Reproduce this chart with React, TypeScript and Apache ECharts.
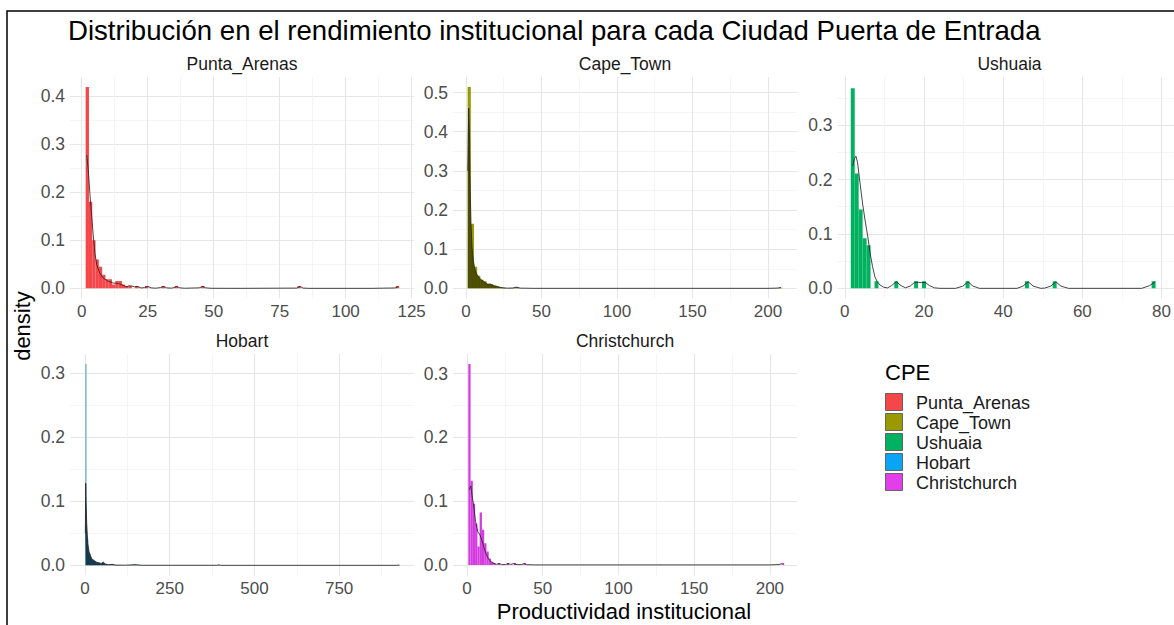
import React, { useEffect, useRef } from "react";
import * as echarts from "echarts";

// Cities (facet order) and their fill colours
const cities = ["Punta_Arenas", "Cape_Town", "Ushuaia", "Hobart", "Christchurch"];
const cityColors = ["#F5464A", "#9A9A00", "#00B25F", "#0AA4F5", "#E23FEB"];

// Histogram bins per city: [binStart, density]; bin width in data units
const puntaBinWidth = 1.25;
const puntaBins = [
  [1.5, 0.418], [2.75, 0.18], [4.0, 0.1], [5.25, 0.06], [6.5, 0.045], [7.75, 0.028],
  [9.0, 0.019], [10.25, 0.019], [11.5, 0.008], [12.75, 0.015], [14.0, 0.015], [15.25, 0.008],
  [16.5, 0.005], [17.75, 0.005], [20.25, 0.005], [24.0, 0.005], [30.25, 0.005], [35.25, 0.005],
  [45.25, 0.005], [81.75, 0.005], [119.0, 0.005],
];
const capeBinWidth = 2.1;
const capeBins = [
  [1.1, 0.514], [3.2, 0.165], [5.3, 0.055], [7.4, 0.032], [9.5, 0.022], [11.6, 0.018],
  [13.7, 0.012], [15.8, 0.011], [17.9, 0.007], [20.0, 0.005], [22.1, 0.003], [24.2, 0.0015],
  [32.6, 0.002], [207.5, 0.0015],
];
const ushuaiaBinWidth = 1;
const ushuaiaBins = [
  [1.5, 0.368], [2.5, 0.211], [3.5, 0.145], [4.5, 0.092], [5.5, 0.079], [7.5, 0.013],
  [12.5, 0.013], [17.5, 0.013], [19.5, 0.013], [30.5, 0.013], [45.5, 0.013], [52.5, 0.013],
  [77.5, 0.013],
];
const hobartBinWidth = 5;
const hobartBins = [
  [0, 0.314], [5, 0.042], [10, 0.018], [15, 0.011], [20, 0.007], [25, 0.005], [30, 0.004],
  [35, 0.003], [40, 0.003], [45, 0.002], [50, 0.004], [55, 0.002], [60, 0.0015], [70, 0.001],
  [80, 0.001], [145, 0.0006], [390, 0.0006], [925, 0.0006],
];
const christchurchBinWidth = 1.5;
const christchurchBins = [
  [0.9, 0.315], [2.4, 0.132], [3.9, 0.096], [5.4, 0.065], [6.9, 0.029], [8.4, 0.082],
  [9.9, 0.055], [11.4, 0.034], [12.9, 0.021], [14.4, 0.01], [15.9, 0.005], [17.4, 0.003],
  [20.4, 0.003], [26.4, 0.003], [30.9, 0.003], [37.4, 0.003], [207.9, 0.003],
];

// Kernel density curves: [x, density]
const puntaDensity = [
  [1.9, 0.277], [2.5, 0.246], [3.1, 0.197], [3.8, 0.149], [4.4, 0.109], [5.0, 0.073], [5.7, 0.049],
  [6.9, 0.031], [8.2, 0.021], [10.1, 0.0146], [12, 0.011], [13.9, 0.01], [15.8, 0.006], [16.8, 0.003],
  [17.8, 0.005], [19.0, 0.005], [20.0, 0.003], [21.0, 0.004], [22.5, 0.0008], [23.8, 0.0015],
  [25, 0.004], [26.3, 0.001], [28, 0.0003], [29.8, 0.0015], [31, 0.004], [32.2, 0.001], [34, 0.0004],
  [35, 0.0015], [36, 0.004], [37.2, 0.001], [39, 0.0002], [44.5, 0.001], [45.8, 0.004], [47, 0.001],
  [49, 0.0001], [60, 0], [81.5, 0.0005], [82.7, 0.004], [83.9, 0.0005], [86, 0], [110, 0],
  [118.8, 0.0008], [120, 0.004],
];
const capeDensity = [
  [1.2, 0.3], [1.8, 0.46], [2.3, 0.4], [2.8, 0.25], [3.3, 0.165], [4.0, 0.105], [4.8, 0.072],
  [5.8, 0.05], [7, 0.037], [8.5, 0.028], [10, 0.022], [11.5, 0.018], [13, 0.014], [14.5, 0.01],
  [16, 0.011], [17.5, 0.008], [19, 0.006], [20.5, 0.005], [22, 0.003], [24, 0.0015], [27, 0.0005],
  [31, 0.0008], [33.5, 0.003], [36, 0.0005], [45, 0], [200, 0], [206, 0.0005], [208.5, 0.002],
];
const ushuaiaDensity = [
  [2, 0.225], [2.4, 0.238], [2.8, 0.243], [3.2, 0.232], [3.9, 0.19], [4.5, 0.155], [5.1, 0.126],
  [5.8, 0.095], [6.4, 0.064], [7.0, 0.04], [7.6, 0.021], [8.2, 0.012], [8.9, 0.006], [9.8, 0.002],
  [10.8, 0.0008], [11.8, 0.005], [13, 0.012], [14.2, 0.005], [15.3, 0.001], [16.5, 0.004],
  [17.6, 0.011], [18.6, 0.011], [19.4, 0.0105], [20.3, 0.011], [21.4, 0.005], [22.6, 0.001],
  [24, 0], [28, 0], [29.8, 0.004], [31.1, 0.012], [32.4, 0.004], [34, 0], [43.5, 0], [45, 0.004],
  [46.3, 0.012], [47.6, 0.004], [49.5, 0], [50.5, 0.0005], [52, 0.004], [53.3, 0.012], [54.6, 0.004],
  [56.5, 0], [75, 0], [77, 0.005], [78.4, 0.012],
];
const hobartDensity = [
  [1, 0.05], [2, 0.128], [3, 0.1], [5, 0.065], [8, 0.034], [12, 0.021], [20, 0.01], [34, 0.005],
  [48, 0.003], [54, 0.005], [60, 0.002], [70, 0.001], [80, 0.0015], [90, 0.0004], [120, 0.0002],
  [148, 0.001], [170, 0.0001], [390, 0.0001], [394, 0.0008], [400, 0], [920, 0], [928, 0.0005],
];
const christchurchDensity = [
  [1.5, 0.118], [2.6, 0.124], [3.3, 0.11], [4.2, 0.097], [5.7, 0.068], [7.1, 0.052], [8.6, 0.047],
  [9.7, 0.04], [10.8, 0.031], [12.5, 0.018], [14.3, 0.009], [16.3, 0.004], [18.5, 0.0015],
  [19.6, 0.001], [21.3, 0.002], [23, 0.0005], [25.5, 0.0005], [27.3, 0.002], [29, 0.0008],
  [31, 0.002], [33, 0.0004], [36, 0.0005], [37.8, 0.002], [39.5, 0.0003], [45, 0], [200, 0],
  [206, 0.0005], [208, 0.002],
];

// Axis breaks per panel
const xBreaksPunta = [0, 25, 50, 75, 100, 125];
const xMinorPunta = [12.5, 37.5, 62.5, 87.5, 112.5];
const xBreaks210 = [0, 50, 100, 150, 200];
const xMinor210 = [25, 75, 125, 175];
const xBreaksUshuaia = [0, 20, 40, 60, 80];
const xMinorUshuaia = [10, 30, 50, 70];
const xBreaksHobart = [0, 250, 500, 750];
const xMinorHobart = [125, 375, 625, 875];
const yBreaks04 = [0, 0.1, 0.2, 0.3, 0.4];
const yBreaks05 = [0, 0.1, 0.2, 0.3, 0.4, 0.5];
const yBreaks03 = [0, 0.1, 0.2, 0.3];
const yMinor = [0.05, 0.15, 0.25, 0.35, 0.45];

const FONT = "'Liberation Sans', Arial, Helvetica, sans-serif";

const panels = [
  { bins: puntaBins, bw: puntaBinWidth, dens: puntaDensity, left: 70, top: 77, xr: [-4.43, 125.9], yr: [-0.0209, 0.439], xb: xBreaksPunta, xm: xMinorPunta, yb: yBreaks04, area: null },
  { bins: capeBins, bw: capeBinWidth, dens: capeDensity, left: 453, top: 77, xr: [-8.6, 219.2], yr: [-0.0257, 0.5397], xb: xBreaks210, xm: xMinor210, yb: yBreaks05, area: "rgba(45,45,0,0.7)" },
  { bins: ushuaiaBins, bw: ushuaiaBinWidth, dens: ushuaiaDensity, left: 837.5, top: 77, xr: [-1.85, 83.1], yr: [-0.0185, 0.3885], xb: xBreaksUshuaia, xm: xMinorUshuaia, yb: yBreaks03, area: null },
  { bins: hobartBins, bw: hobartBinWidth, dens: hobartDensity, left: 70, top: 354, xr: [-44.3, 971], yr: [-0.0157, 0.3297], xb: xBreaksHobart, xm: xMinorHobart, yb: yBreaks03, area: "rgba(10,45,65,0.92)" },
  { bins: christchurchBins, bw: christchurchBinWidth, dens: christchurchDensity, left: 453, top: 354, xr: [-9.2, 217.9], yr: [-0.0165, 0.3308], xb: xBreaks210, xm: xMinor210, yb: yBreaks03, area: null },
];
const barFill = ["#F5464A", "#9A9A00", "#00B25F", "#8DBAD3", "#D43CE0"];

export default function App() {
  const ref = useRef<HTMLDivElement>(null);
  useEffect(() => {
    const chart = echarts.init(ref.current!, undefined, { renderer: "svg" });
    const grid: any[] = [];
    const xAxis: any[] = [];
    const yAxis: any[] = [];
    const series: any[] = [];
    panels.forEach((p, i) => {
      grid.push({ left: p.left, top: p.top, width: 344, height: 221.4 });
      xAxis.push({
        gridIndex: i, type: "value", min: p.xr[0], max: p.xr[1],
        axisLine: { show: false }, axisTick: { show: false, customValues: p.xb },
        axisLabel: { customValues: p.xb, color: "#4D4D4D", fontSize: 17, margin: 5, lineHeight: 17, fontFamily: FONT },
        splitLine: { show: true, lineStyle: { color: "#E6E6E6", width: 1 } },
      });
      xAxis.push({
        gridIndex: i, type: "value", position: "top", min: p.xr[0], max: p.xr[1],
        axisLine: { show: false }, axisTick: { show: false, customValues: p.xm }, axisLabel: { show: false },
        splitLine: { show: true, lineStyle: { color: "#F2F2F2", width: 0.8 } },
      });
      yAxis.push({
        gridIndex: i, type: "value", min: p.yr[0], max: p.yr[1],
        axisLine: { show: false }, axisTick: { show: false, customValues: p.yb },
        axisLabel: { customValues: p.yb, color: "#4D4D4D", fontSize: 17.5, margin: 5, fontFamily: FONT, formatter: (v: number) => v.toFixed(1) },
        splitLine: { show: true, lineStyle: { color: "#E6E6E6", width: 1 } },
      });
      yAxis.push({
        gridIndex: i, type: "value", position: "right", min: p.yr[0], max: p.yr[1],
        axisLine: { show: false }, axisTick: { show: false, customValues: yMinor }, axisLabel: { show: false },
        splitLine: { show: true, lineStyle: { color: "#F2F2F2", width: 0.8 } },
      });
      const bw = p.bw;
      const fill = barFill[i];
      series.push({
        type: "custom", name: cities[i], xAxisIndex: 2 * i, yAxisIndex: 2 * i, data: p.bins,
        clip: true,
        renderItem: (params: any, api: any) => {
          const x0 = api.value(0);
          const y = api.value(1);
          const a = api.coord([x0, y]);
          const b = api.coord([x0 + bw, 0]);
          return {
            type: "rect",
            shape: { x: a[0], y: a[1], width: Math.max(b[0] - a[0], 1), height: b[1] - a[1] },
            style: { fill },
          };
        },
      });
      series.push({
        type: "line", xAxisIndex: 2 * i, yAxisIndex: 2 * i, data: p.dens, showSymbol: false,
        smooth: false, silent: true, clip: true,
        lineStyle: { color: "#262626", width: 1, opacity: 0.85 },
        areaStyle: p.area ? { color: p.area, opacity: 1, origin: 0 } : undefined,
      });
    });

    const graphic: any[] = [
      { type: "rect", shape: { x: 7, y: 11, width: 1300, height: 800 }, style: { fill: "none", stroke: "#000", lineWidth: 1.5 }, silent: true },
      { type: "text", x: 68, y: 30, style: { text: "Distribución en el rendimiento institucional para cada Ciudad Puerta de Entrada", font: `27.6px ${FONT}`, fill: "#000", verticalAlign: "middle" } },
      { type: "text", x: 22, y: 326, rotation: Math.PI / 2, style: { text: "density", font: `22px ${FONT}`, fill: "#000", align: "center", verticalAlign: "middle" } },
      { type: "text", x: 624, y: 611, style: { text: "Productividad institucional", font: `22px ${FONT}`, lineHeight: 22, fill: "#000", align: "center", verticalAlign: "middle" } },
      { type: "text", x: 885, y: 372, style: { text: "CPE", font: `22px ${FONT}`, fill: "#000", verticalAlign: "middle" } },
    ];
    panels.forEach((p, i) => {
      graphic.push({ type: "text", x: p.left + 172, y: p.top - 13, style: { text: cities[i], font: `17.5px ${FONT}`, fill: "#1A1A1A", align: "center", verticalAlign: "middle" } });
    });
    cities.forEach((c, i) => {
      graphic.push({ type: "rect", shape: { x: 885.5, y: 393.5 + i * 20, width: 17, height: 17 }, style: { fill: cityColors[i], stroke: "#4D4D4D", lineWidth: 0.8 } });
      graphic.push({ type: "text", x: 916, y: 402.5 + i * 20, style: { text: c, font: `18px ${FONT}`, fill: "#1A1A1A", verticalAlign: "middle" } });
    });

    chart.setOption({ animation: false, backgroundColor: "#fff", grid, xAxis, yAxis, series, graphic });
    return () => chart.dispose();
  }, []);
  return <div ref={ref} style={{ position: "absolute", left: 0, top: 0, width: 1174, height: 625 }} />;
}
